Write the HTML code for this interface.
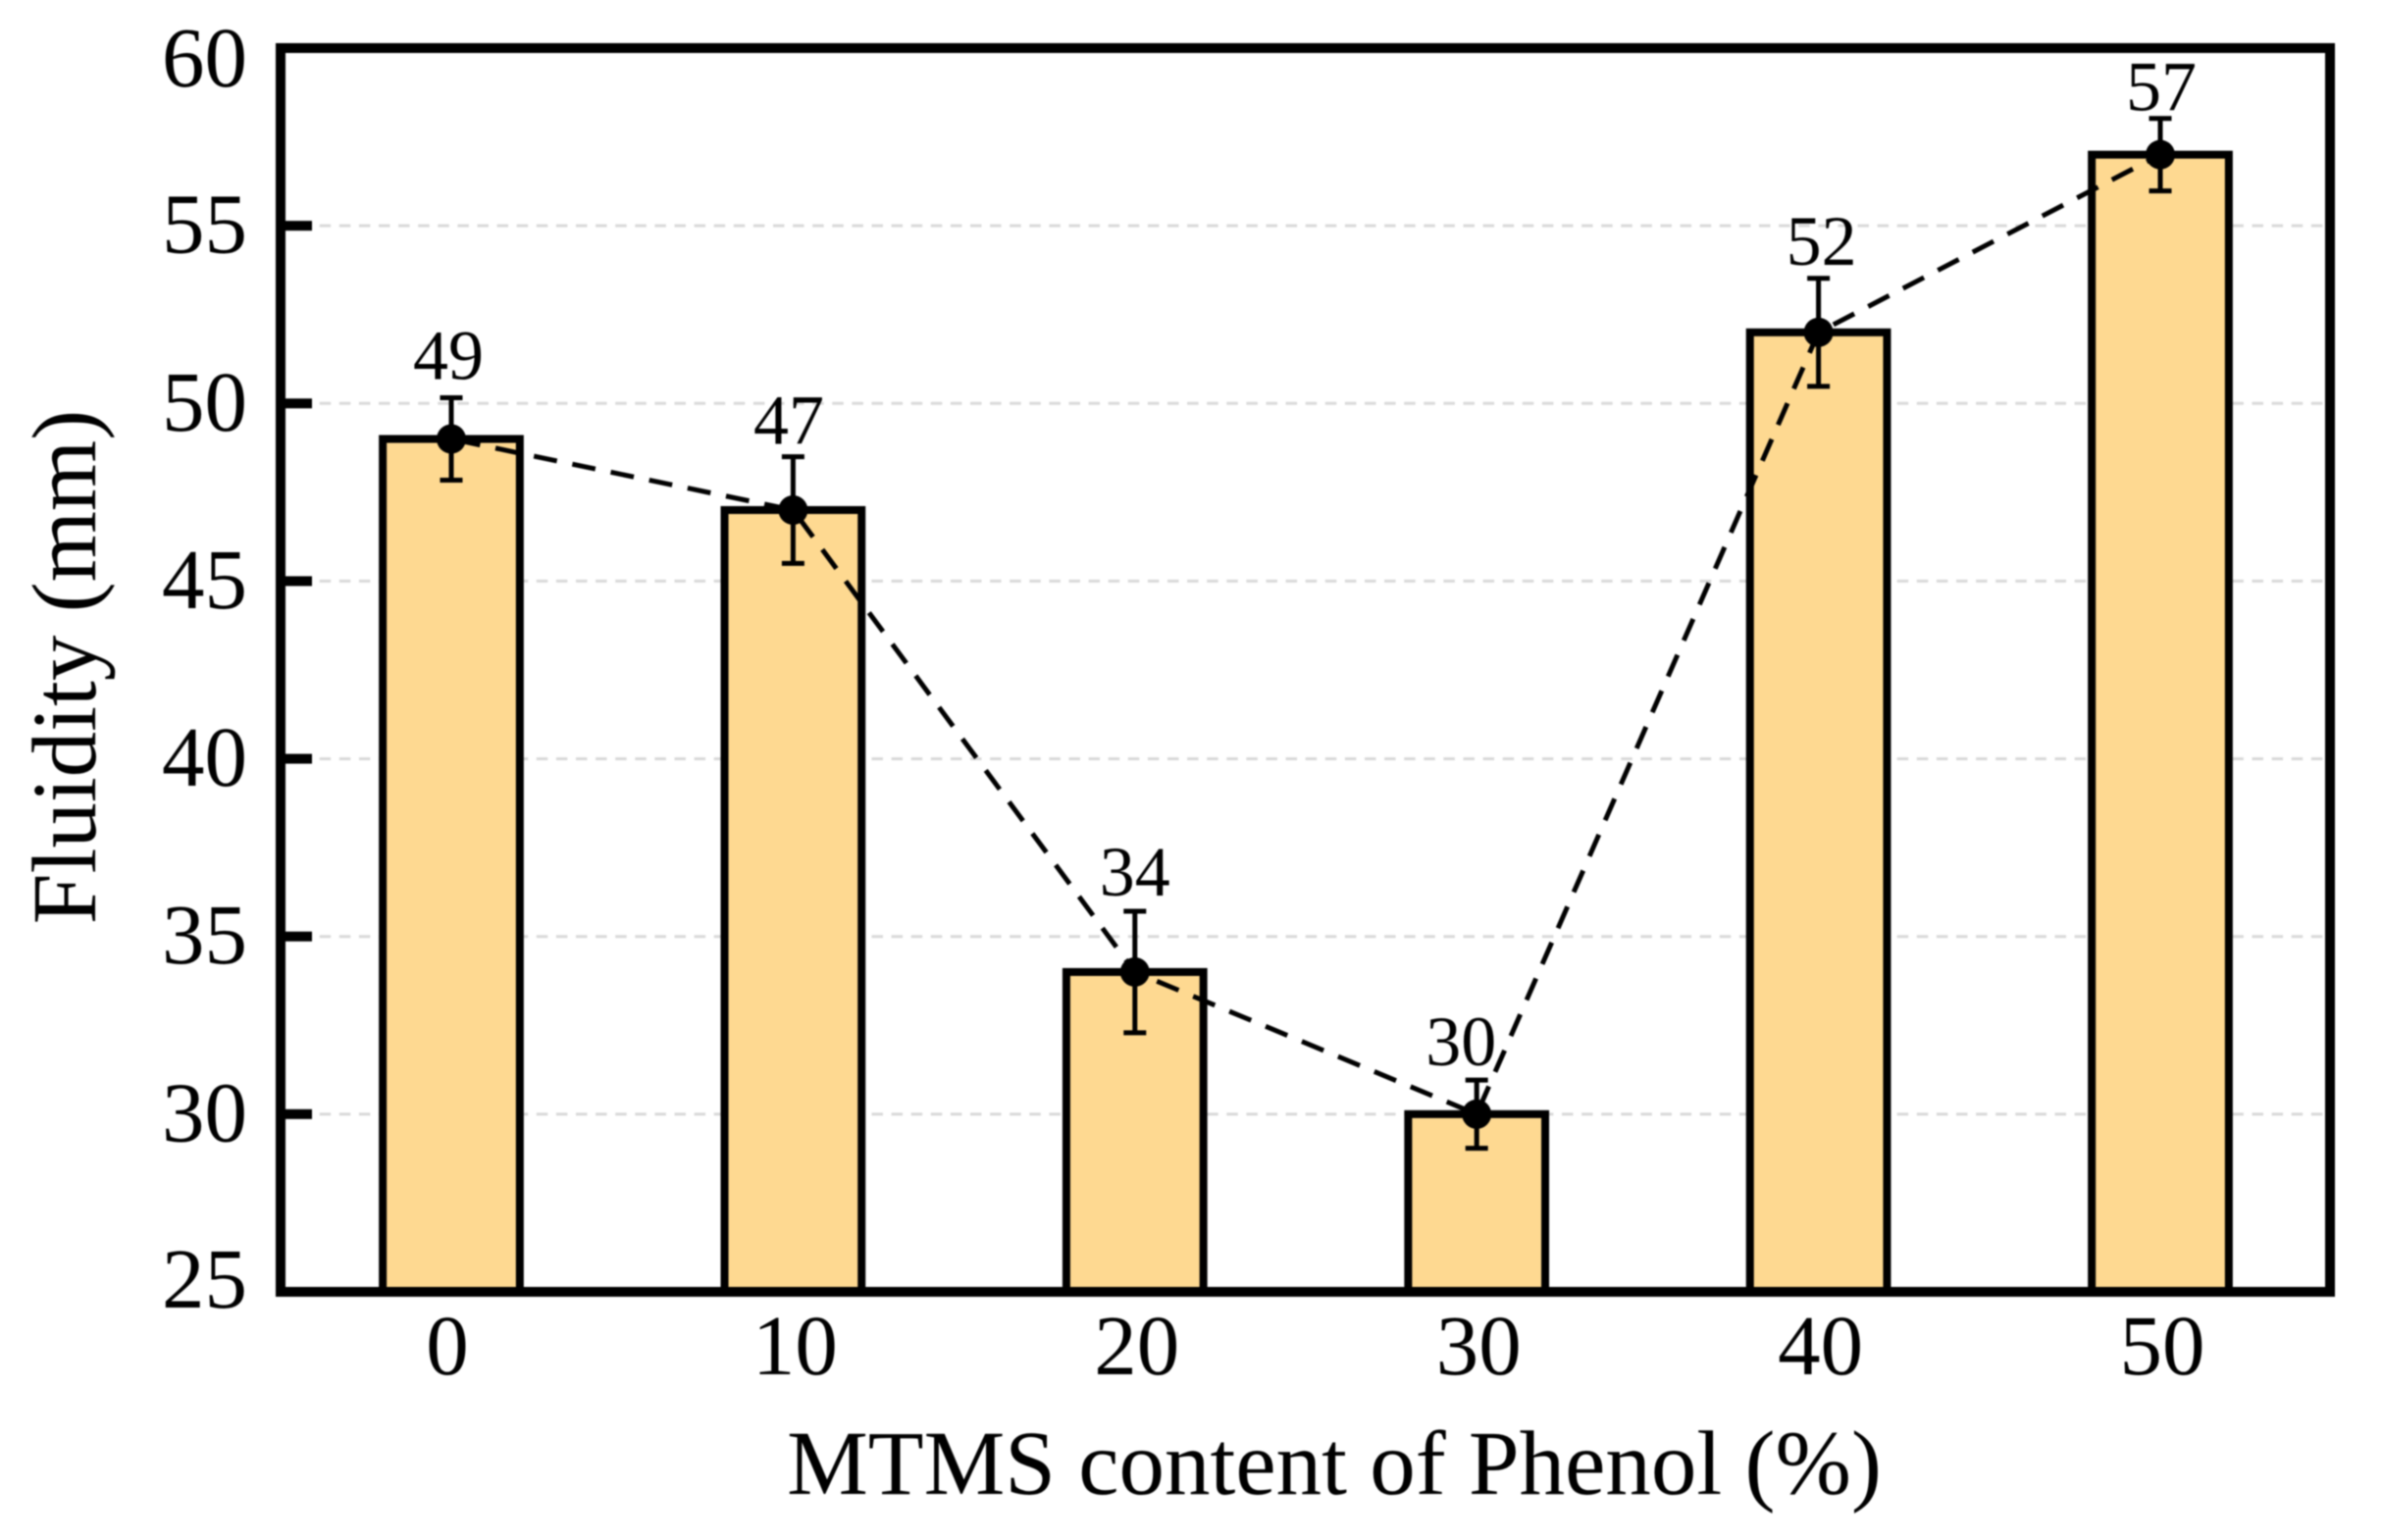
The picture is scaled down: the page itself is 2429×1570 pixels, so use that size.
<!DOCTYPE html>
<html>
<head>
<meta charset="utf-8">
<style>
html,body{margin:0;padding:0;background:#fff;}
svg{display:block;filter:blur(0.9px);}
text{font-family:"Liberation Serif","Times New Roman",serif;fill:#000;}
</style>
</head>
<body>
<svg id="chart" width="2429" height="1570" viewBox="0 0 2429 1570" xmlns="http://www.w3.org/2000/svg">
<rect x="0" y="0" width="2429" height="1570" fill="#ffffff"/>
<g id="grid"></g>
<g id="bars"></g>
<g id="line"></g>
<g id="errs"></g>
<g id="pts"></g>
<g id="vals"></g>
<g id="yticks"></g>
<g id="xticks"></g>
<rect x="286" y="49" width="2089" height="1268" fill="none" stroke="#000" stroke-width="10"/>
<text x="1360" y="1523" font-size="93" text-anchor="middle">MTMS content of Phenol (%)</text>
<text transform="translate(97,680) rotate(-90)" font-size="93" text-anchor="middle">Fluidity (mm)</text>
</svg>
<script>
var categories = ['0', '10', '20', '30', '40', '50'];
var fluidity = [49, 47, 34, 30, 52, 57];
var errors = [1.16, 1.5, 1.71, 0.96, 1.52, 1.02];
var valueLabels = ['49', '47', '34', '30', '52', '57'];
var yTickValues = [25, 30, 35, 40, 45, 50, 55, 60];
var yTickLabels = ['25', '30', '35', '40', '45', '50', '55', '60'];
var gridValues = [30, 35, 40, 45, 50, 55];

var NS = 'http://www.w3.org/2000/svg';
function xPos(i) { return 460 + i * 348.4; }
function yPos(v) { return 49 + (60 - v) * (1268 / 35); }
function make(tag, parent, attrs) {
  var el = document.createElementNS(NS, tag);
  for (var k in attrs) { el.setAttribute(k, attrs[k]); }
  document.getElementById(parent).appendChild(el);
  return el;
}
function labelDx(i) { return [-3, -4.4, 0, -16, 3, 1][i]; }
function labelGap(i) { return [19, 13, 16, 15, 14, 8][i]; }

gridValues.forEach(function (v) {
  var g = make('line', 'grid', { x1: 285.5, x2: 2370, y1: yPos(v), y2: yPos(v), stroke: '#d9d9d9', 'stroke-width': 3, 'stroke-dasharray': '11.5 8.6' });
  
  
});

var BAR_W = 139.7;
fluidity.forEach(function (v, i) {
  var b = make('rect', 'bars', { x: xPos(i) - BAR_W / 2, y: yPos(v), width: BAR_W, height: yPos(25) - yPos(v), fill: '#fed991', stroke: '#000', 'stroke-width': 8 });
  
  
});

var pointsAttr = fluidity.map(function (v, i) { return xPos(i) + ',' + yPos(v); }).join(' ');
var trend = make('polyline', 'line', { points: pointsAttr, fill: 'none', stroke: '#000', 'stroke-width': 5, 'stroke-dasharray': '24 16', 'stroke-dashoffset': -6 });



fluidity.forEach(function (v, i) {
  var top = yPos(v + errors[i]);
  var bot = yPos(v - errors[i]);
  var d = 'M' + xPos(i) + ' ' + top + 'V' + bot +
          'M' + (xPos(i) - 11.5) + ' ' + top + 'H' + (xPos(i) + 11.5) +
          'M' + (xPos(i) - 11.5) + ' ' + bot + 'H' + (xPos(i) + 11.5);
  var e = make('path', 'errs', { d: d, fill: 'none', stroke: '#000', 'stroke-width': 5 });
  
  

  var p = make('circle', 'pts', { cx: xPos(i), cy: yPos(v), r: 15, fill: '#000' });
  
  

  var t = make('text', 'vals', { x: xPos(i) + labelDx(i), y: top - labelGap(i), 'font-size': 72, 'text-anchor': 'middle' });
  t.textContent = valueLabels[i];
  
  
});

yTickValues.forEach(function (v, i) {
  if (v > 25 && v < 60) {
    var m = make('rect', 'yticks', { x: 286, y: yPos(v) - 5, width: 32, height: 10, fill: '#000' });
    
    
  }
  var cy = Math.min(1305.5, Math.max(60.5, yPos(v)));
  var t = make('text', 'yticks', { x: 252, y: cy + 27.5, 'font-size': 87, 'text-anchor': 'end' });
  t.textContent = yTickLabels[i];
  
  
});

categories.forEach(function (c, i) {
  var t = make('text', 'xticks', { x: xPos(i) + (i === 0 ? -4 : 2), y: 1401, 'font-size': 87, 'text-anchor': 'middle' });
  t.textContent = c;
  
  
});
</script>
</body>
</html>
